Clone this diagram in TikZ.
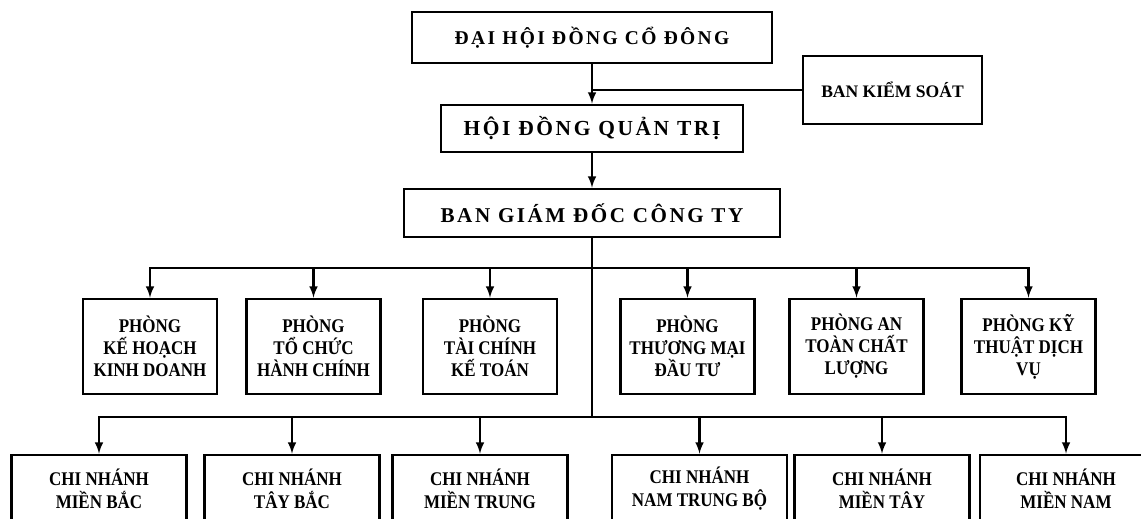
\documentclass[tikz,border=0pt]{standalone}
\usepackage{fontspec}
\setmainfont{Liberation Serif}
\newfontfamily\headfont{Liberation Serif}[LetterSpace=12]
\newfontfamily\cellfont{Liberation Serif}[FakeStretch=0.88]
\usetikzlibrary{arrows}

\begin{document}
\begin{tikzpicture}[->,>=latex,x=0.02cm,y=-0.02cm,line width=1.2pt,
      head node/.style={draw,line width=1.6pt,inner sep=0pt},
      dept node/.style={draw,line width=1.6pt,align=center,inner sep=0pt,
        minimum width=2.68cm,minimum height=1.9cm,
        font=\cellfont\bfseries\fontsize{11}{12.5}\selectfont},
      branch node/.style={draw,line width=1.6pt,align=center,inner sep=0pt,
        minimum width=3.5cm,minimum height=1.34cm,
        font=\cellfont\bfseries\fontsize{11}{13}\selectfont}]

      \clip (0,0) rectangle (1141,518);

      \node[head node,minimum width=7.2cm,minimum height=1.02cm,
        font=\headfont\bfseries\fontsize{11.1}{13}\selectfont] (dhcd) at (592,37.5) {ĐẠI HỘI ĐỒNG CỔ ĐÔNG};
      \node[head node,minimum width=3.58cm,minimum height=1.36cm,
        font=\bfseries\fontsize{10}{12}\selectfont] (bks) at (892.5,90) {BAN KIỂM SOÁT};
      \node[head node,minimum width=6.04cm,minimum height=0.94cm,
        font=\headfont\bfseries\fontsize{12.2}{14}\selectfont] (hdqt) at (592,128.5) {HỘI ĐỒNG QUẢN TRỊ};
      \node[head node,minimum width=7.52cm,minimum height=0.96cm,
        font=\headfont\bfseries\fontsize{12}{14}\selectfont] (bgd) at (592,213) {BAN GIÁM ĐỐC CÔNG TY};

      % phong ban
      \node[dept node] (p1) at (150,346.5) {PHÒNG\\KẾ HOẠCH\\KINH DOANH};
      \node[dept node] (p2) at (313.5,346.5) {PHÒNG\\TỔ CHỨC\\HÀNH CHÍNH};
      \node[dept node] (p3) at (490,346.5) {PHÒNG\\TÀI CHÍNH\\KẾ TOÁN};
      \node[dept node] (p4) at (687.5,346.5) {PHÒNG\\THƯƠNG MẠI\\ĐẦU TƯ};
      \node[dept node] (p5) at (856.5,346.5) {PHÒNG AN\\TOÀN CHẤT\\LƯỢNG};
      \node[dept node] (p6) at (1028.5,346.5) {PHÒNG KỸ\\THUẬT DỊCH\\VỤ};

      % chi nhanh
      \node[branch node] (cn1) at (99,488.5) {CHI NHÁNH\\MIỀN BẮC};
      \node[branch node] (cn2) at (292,488.5) {CHI NHÁNH\\TÂY BẮC};
      \node[branch node] (cn3) at (480,488.5) {CHI NHÁNH\\MIỀN TRUNG};
      \node[branch node] (cn4) at (699.5,488.5) {CHI NHÁNH\\NAM TRUNG BỘ};
      \node[branch node] (cn5) at (882,488.5) {CHI NHÁNH\\MIỀN TÂY};
      \node[branch node,minimum width=3.44cm] (cn6) at (1066,488.5) {CHI NHÁNH\\MIỀN NAM};

      \path (bgd.south) ++(0,30) coordinate (bus1) ++(0,149) coordinate (bus2);

      \path (dhcd) edge (hdqt)
      (hdqt) edge (bgd)
      (bks) edge [-] (bks -| dhcd);

      \draw[-] (bgd) -- (bus2);
      \draw (bus1) -| (p1);
      \draw (bus1) -| (p2);
      \draw (bus1) -| (p3);
      \draw (bus1) -| (p4);
      \draw (bus1) -| (p5);
      \draw (bus1) -| (p6);
      \draw (bus2) -| (cn1);
      \draw (bus2) -| (cn2);
      \draw (bus2) -| (cn3);
      \draw (bus2) -| (cn4);
      \draw (bus2) -| (cn5);
      \draw (bus2) -| (cn6);
    \end{tikzpicture}
\end{document}
